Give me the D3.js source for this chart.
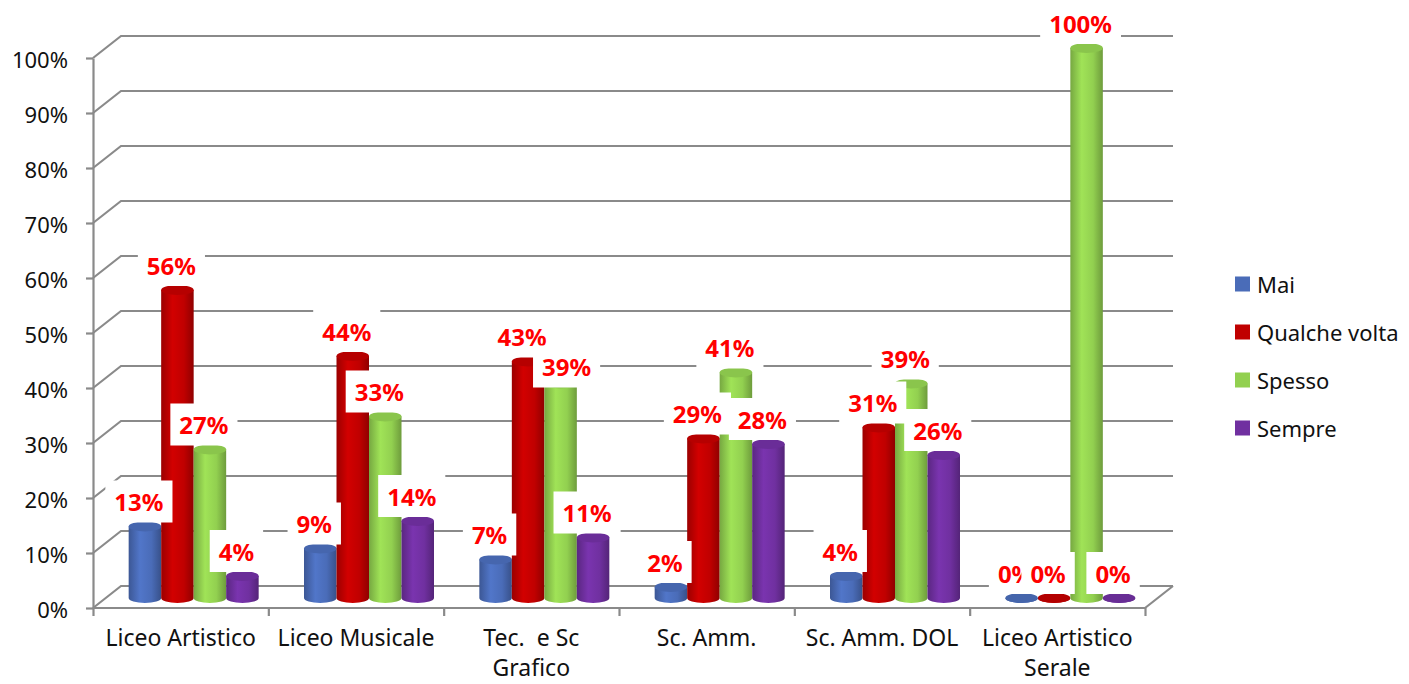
<!DOCTYPE html>
<html>
<head>
<meta charset="utf-8">
<script src="https://cdn.jsdelivr.net/npm/d3@7"></script>
<style>
  body { margin: 0; background: #fff; }
  svg { font-family: "Noto Sans", sans-serif; }
</style>
</head>
<body>
<div id="chart"></div>
<script>
// clustered "cylinder" chart, percentages per school / frequency answer

const categories = ["Liceo Artistico", "Liceo Musicale", "Tec.  e Sc Grafico", "Sc. Amm.", "Sc. Amm. DOL", "Liceo Artistico Serale"];
const series = ["Mai", "Qualche volta", "Spesso", "Sempre"];
const mai = [0.13, 0.09, 0.07, 0.02, 0.04, 0];
const qualcheVolta = [0.56, 0.44, 0.43, 0.29, 0.31, 0];
const spesso = [0.27, 0.33, 0.39, 0.41, 0.39, 1.00];
const sempre = [0.04, 0.14, 0.11, 0.28, 0.26, 0];
const yTicks = [0, 0.1, 0.2, 0.3, 0.4, 0.5, 0.6, 0.7, 0.8, 0.9, 1.0];

const values = [mai, qualcheVolta, spesso, sempre];
const colors = ["#4a6cb8", "#c00000", "#92d050", "#7030a0"];

const width = 1409, height = 684;
const margin = {top: 58, right: 264, bottom: 76, left: 93};
// depth of the 3d box (back wall offset)
const depth = {dx: 28, dy: -22};
const grid = "#8a8a8a";

const svg = d3.select("#chart").append("svg")
    .attr("width", width)
    .attr("height", height);

const x = d3.scaleBand()
    .domain(categories)
    .range([margin.left, width - margin.right]);

const y = d3.scaleLinear()
    .domain([0, 1])
    .range([height - margin.bottom, margin.top]);

const groupW = 130;
const inner = d3.scaleBand().domain(series).range([0, groupW]);

// gradients for the cylinders
const defs = svg.append("defs");
colors.forEach((c, i) => {
    const base = d3.color(c);
    const g = defs.append("linearGradient").attr("id", "cyl" + i)
        .attr("x1", 0).attr("x2", 1).attr("y1", 0).attr("y2", 0);
    g.append("stop").attr("offset", "0%").attr("stop-color", base.darker(0.6));
    g.append("stop").attr("offset", "35%").attr("stop-color", base.brighter(0.25));
    g.append("stop").attr("offset", "70%").attr("stop-color", base);
    g.append("stop").attr("offset", "100%").attr("stop-color", base.darker(0.8));
});

// walls / gridlines
const wall = svg.append("g").attr("stroke", grid).attr("stroke-width", 2.2).attr("fill", "none");
const right = width - margin.right;
yTicks.forEach(t => {
    wall.append("path")
        .attr("d", `M${margin.left},${y(t)}L${margin.left + depth.dx},${y(t) + depth.dy}L${right + depth.dx},${y(t) + depth.dy}`);
});
// floor front + right edges
wall.append("path")
    .attr("d", `M${margin.left},${y(0)}L${right},${y(0)}L${right + depth.dx},${y(0) + depth.dy}`);

// y axis
const yAxis = g => g
    .attr("transform", `translate(${margin.left},0)`)
    .call(d3.axisLeft(y).tickValues(yTicks).tickFormat(d3.format(".0%")).tickSize(7).tickSizeOuter(0).tickPadding(18))
    .call(g => g.selectAll("path, line").attr("stroke", grid).attr("stroke-width", 2.2))
    .call(g => g.selectAll("text").attr("font-size", 22).attr("fill", "#111").attr("font-family", "Noto Sans").attr("dy", "0.45em"));
svg.append("g").call(yAxis);

// x axis ticks at category boundaries
const xb = d3.scaleLinear().domain([0, categories.length]).range([margin.left, right]);
svg.append("g")
    .attr("transform", `translate(0,${y(0)})`)
    .call(d3.axisBottom(xb).ticks(categories.length).tickFormat("").tickSize(8).tickSizeOuter(0))
    .call(g => g.select(".domain").remove())
    .call(g => g.selectAll("line").attr("stroke", grid).attr("stroke-width", 2.2));

// category labels, wrapped
const catLabels = svg.append("g")
    .attr("font-size", 23).attr("fill", "#111").attr("text-anchor", "middle");
categories.forEach(c => {
    const t = catLabels.append("text")
        .attr("xml:space", "preserve")
        .attr("x", x(c) + x.bandwidth() / 2)
        .attr("y", y(0) + 38);
    const words = c.split(" ");
    let line = [], lines = [];
    const probe = t.append("tspan");
    words.forEach(w => {
        line.push(w);
        probe.text(line.join(" "));
        if (probe.node().getComputedTextLength() > x.bandwidth() - 8 && line.length > 1) {
            line.pop();
            lines.push(line.join(" "));
            line = [w];
        }
    });
    lines.push(line.join(" "));
    probe.remove();
    lines.forEach((l, i) => {
        t.append("tspan")
            .attr("x", x(c) + x.bandwidth() / 2)
            .attr("dy", i === 0 ? 0 : 30)
            .text(l.trim());
    });
});

// bars
const shift = {dx: 13, dy: -10};
const ry = 5;
const barX = (ci, si) => x(categories[ci]) + x.bandwidth() / 2 + shift.dx - groupW / 2 + inner(series[si]);
const base = y(0) + shift.dy;
const barTop = v => y(v) + shift.dy;

const bars = svg.append("g");
categories.forEach((c, ci) => {
    series.forEach((s, si) => {
        const v = values[si][ci];
        const x0 = barX(ci, si), w = inner.bandwidth(), rx = w / 2;
        const top = barTop(v);
        const col = d3.color(colors[si]);
        bars.append("path")
            .attr("fill", `url(#cyl${si})`)
            .attr("d", `M${x0},${top}L${x0},${base}A${rx},${ry} 0 0 0 ${x0 + w},${base}L${x0 + w},${top}Z`);
        bars.append("ellipse")
            .attr("cx", x0 + rx).attr("cy", top)
            .attr("rx", rx).attr("ry", ry)
            .attr("fill", v === 0 ? col.darker(0.2) : col.darker(0.15));
    });
});

// one label was dragged by hand in the original (Spesso on Tec. e Sc Grafico)
const labelNudge = {"2-2": [12, 8]};

// data labels with white boxes
const labels = svg.append("g");
categories.forEach((c, ci) => {
    series.forEach((s, si) => {
        const v = values[si][ci];
        const nudge = labelNudge[`${ci}-${si}`] || [0, 0];
        const cx = barX(ci, si) + inner.bandwidth() / 2 - 6 + nudge[0];
        const cy = barTop(v) - 25 + nudge[1];
        const box = labels.append("rect").attr("fill", "#fff");
        const t = labels.append("text")
            .attr("x", cx).attr("y", cy)
            .attr("text-anchor", "middle")
            .attr("dominant-baseline", "central")
            .attr("font-size", 24).attr("font-weight", "bold")
            .attr("fill", "#ff0000")
            .text(d3.format(".0%")(v));
        const tw = t.node().getComputedTextLength();
        box.attr("x", cx - tw / 2 - 9).attr("y", cy - 21)
            .attr("width", tw + 18).attr("height", 42);
    });
});

// legend
const legend = svg.append("g").attr("font-size", 22).attr("fill", "#111");
series.forEach((s, i) => {
    const ly = 284 + i * 48;
    legend.append("rect")
        .attr("x", 1235).attr("y", ly - 7.5)
        .attr("width", 15).attr("height", 15)
        .attr("fill", colors[i]);
    legend.append("text")
        .attr("x", 1257).attr("y", ly)
        .attr("dominant-baseline", "central")
        .text(s);
});
</script>
</body>
</html>
